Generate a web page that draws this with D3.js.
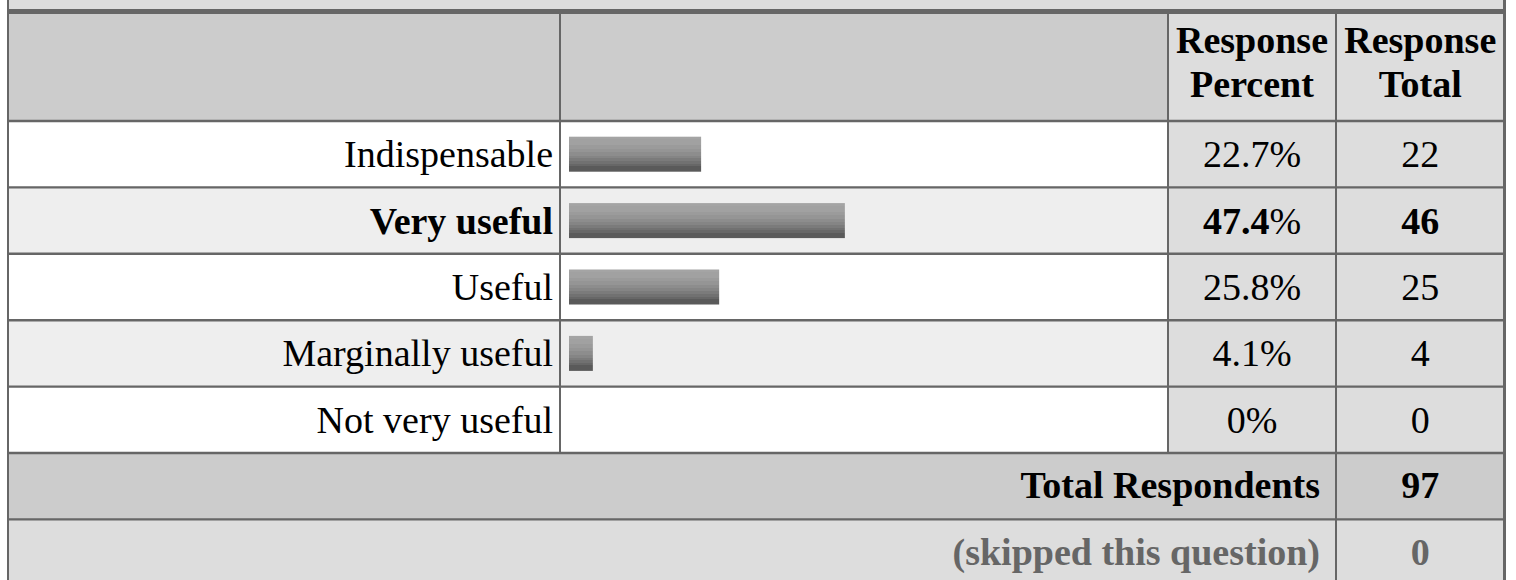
<!DOCTYPE html>
<html>
<head>
<meta charset="utf-8">
<script src="https://cdn.jsdelivr.net/npm/d3@7"></script>
<style>
  body { margin: 0; background: #fff; }
  svg text { font-family: "Liberation Serif", "Times New Roman", serif; font-size: 38px; }
</style>
</head>
<body>
<div id="chart"></div>
<script>
// Survey answers
const categories = ['Indispensable', 'Very useful', 'Useful', 'Marginally useful', 'Not very useful'];
const percents = [22.7, 47.4, 25.8, 4.1, 0];
const totals = [22, 46, 25, 4, 0];

// Header and footer texts
const headerLabels = [['Response', 'Percent'], ['Response', 'Total']];
const footerLabels = ['Total Respondents', '(skipped this question)'];
const footerValues = [97, 0];

const width = 1516;
const height = 580;
const border = '#666';

const svg = d3.select('#chart')
  .append('svg')
  .attr('width', width)
  .attr('height', height);

// Column edges: label | bar | percent | total
const colEdges = [8, 560, 1168, 1336, 1504.5];

// Rows: five answers, then the two footer rows
const rowKeys = categories.concat(['total', 'skipped']);
const y = d3.scaleBand()
  .domain(rowKeys)
  .range([121, 121 + rowKeys.length * 66.4])
  .padding(0);

// Bar length follows the percent
const x = d3.scaleLinear()
  .domain([0, 100])
  .range([0, 582]);

const maxIdx = percents.indexOf(d3.max(percents));

// Stepped grey fill like the original bar image
const defs = svg.append('defs');
const grad = defs.append('linearGradient')
  .attr('id', 'barFill')
  .attr('x1', 0).attr('y1', 0).attr('x2', 0).attr('y2', 1);
const steps = [
  [0.00, '#a4a4a4'], [0.08, '#a1a1a1'], [0.24, '#9b9b9b'], [0.34, '#959595'],
  [0.44, '#8d8d8d'], [0.54, '#858585'], [0.62, '#7b7b7b'], [0.70, '#717171'],
  [0.78, '#676767'], [0.84, '#5a5a5a'], [1.00, '#575757']
];
steps.forEach((s, i) => {
  const next = steps[i + 1] ? steps[i + 1][0] : 1;
  grad.append('stop').attr('offset', s[0]).attr('stop-color', s[1]);
  grad.append('stop').attr('offset', next).attr('stop-color', s[1]);
});

/*
 * Backgrounds
 */

// Strip of the question row above the table
svg.append('rect')
  .attr('x', colEdges[0]).attr('y', 0)
  .attr('width', colEdges[4] - colEdges[0]).attr('height', 9)
  .attr('fill', '#ddd');

// Header cells
svg.append('rect')
  .attr('x', colEdges[0]).attr('y', 14)
  .attr('width', colEdges[2] - colEdges[0]).attr('height', 107)
  .attr('fill', '#ccc');
svg.append('rect')
  .attr('x', colEdges[2]).attr('y', 14)
  .attr('width', colEdges[4] - colEdges[2]).attr('height', 107)
  .attr('fill', '#ddd');

// Answer rows
const rows = svg.append('g');
categories.forEach((c, i) => {
  rows.append('rect')
    .attr('x', colEdges[0]).attr('y', y(c))
    .attr('width', colEdges[2] - colEdges[0]).attr('height', y.bandwidth())
    .attr('fill', i % 2 === 0 ? '#fff' : '#eee');
  rows.append('rect')
    .attr('x', colEdges[2]).attr('y', y(c))
    .attr('width', colEdges[4] - colEdges[2]).attr('height', y.bandwidth())
    .attr('fill', '#ddd');
});

// Footer rows
rows.append('rect')
  .attr('x', colEdges[0]).attr('y', y('total'))
  .attr('width', colEdges[4] - colEdges[0]).attr('height', y.bandwidth())
  .attr('fill', '#ccc');
rows.append('rect')
  .attr('x', colEdges[0]).attr('y', y('skipped'))
  .attr('width', colEdges[4] - colEdges[0]).attr('height', height - y('skipped'))
  .attr('fill', '#ddd');

/*
 * Bars
 */
svg.append('g')
  .selectAll('rect')
  .data(categories.map((c, i) => ({ c, p: percents[i] })).filter(d => d.p > 0))
  .join('rect')
  .attr('x', colEdges[1] + 9)
  .attr('y', d => y(d.c) + y.bandwidth() / 2 - 17.5)
  .attr('width', d => x(d.p))
  .attr('height', 35)
  .attr('fill', 'url(#barFill)');

/*
 * Grid lines
 */
const lines = svg.append('g').attr('stroke', border);

// Thick line under the question strip
lines.append('rect')
  .attr('x', colEdges[0]).attr('y', 9)
  .attr('width', colEdges[4] - colEdges[0]).attr('height', 5)
  .attr('fill', border).attr('stroke', 'none');

// Horizontal lines between rows
rowKeys.forEach(k => {
  lines.append('line')
    .attr('x1', colEdges[0]).attr('x2', colEdges[4])
    .attr('y1', y(k)).attr('y2', y(k))
    .attr('stroke-width', 2.4);
});

// Vertical lines
const dataBottom = y('total');
[1, 2, 3].forEach(j => {
  lines.append('line')
    .attr('x1', colEdges[j]).attr('x2', colEdges[j])
    .attr('y1', 14).attr('y2', j === 3 ? height : dataBottom)
    .attr('stroke-width', 2);
});
lines.append('line')
  .attr('x1', colEdges[0]).attr('x2', colEdges[0])
  .attr('y1', 0).attr('y2', height)
  .attr('stroke-width', 2);
lines.append('line')
  .attr('x1', colEdges[4]).attr('x2', colEdges[4])
  .attr('y1', 0).attr('y2', height)
  .attr('stroke-width', 3);

/*
 * Texts
 */
const txt = svg.append('g').attr('fill', '#000');

// Header labels, two lines each
headerLabels.forEach((lbl, j) => {
  const cx = (colEdges[j + 2] + colEdges[j + 3]) / 2;
  lbl.forEach((l, k) => {
    txt.append('text')
      .attr('x', cx).attr('y', 53 + k * 44)
      .attr('text-anchor', 'middle')
      .attr('font-weight', 'bold')
      .text(l);
  });
});

categories.forEach((c, i) => {
  const cy = y(c) + y.bandwidth() / 2 + 13;
  const bold = i === maxIdx ? 'bold' : 'normal';

  txt.append('text')
    .attr('x', colEdges[1] - 7).attr('y', cy)
    .attr('text-anchor', 'end')
    .attr('font-weight', bold)
    .text(c);

  const pct = txt.append('text')
    .attr('x', (colEdges[2] + colEdges[3]) / 2).attr('y', cy)
    .attr('text-anchor', 'middle');
  pct.append('tspan')
    .attr('font-weight', bold)
    .text(percents[i] === 0 ? '0' : percents[i].toFixed(1));
  pct.append('tspan').text('%');

  txt.append('text')
    .attr('x', (colEdges[3] + colEdges[4]) / 2).attr('y', cy)
    .attr('text-anchor', 'middle')
    .attr('font-weight', bold)
    .text(totals[i]);
});

// Footer rows
['total', 'skipped'].forEach((k, i) => {
  const cy = y(k) + y.bandwidth() / 2 + 12;
  const color = i === 0 ? '#000' : '#666';
  txt.append('text')
    .attr('x', colEdges[3] - 16).attr('y', cy)
    .attr('text-anchor', 'end')
    .attr('font-weight', 'bold')
    .attr('fill', color)
    .text(footerLabels[i]);
  txt.append('text')
    .attr('x', (colEdges[3] + colEdges[4]) / 2).attr('y', cy)
    .attr('text-anchor', 'middle')
    .attr('font-weight', 'bold')
    .attr('fill', color)
    .text(footerValues[i]);
});
</script>
</body>
</html>
